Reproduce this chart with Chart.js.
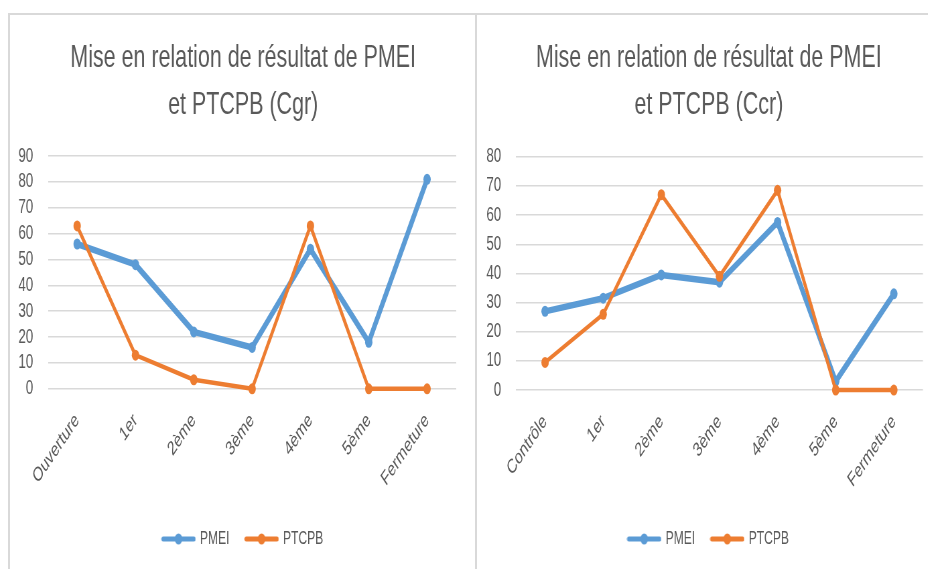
<!DOCTYPE html>
<html>
<head>
<meta charset="utf-8">
<script src="https://cdn.jsdelivr.net/npm/chart.js@4/dist/chart.umd.min.js"></script>
<style>
  html, body { margin: 0; padding: 0; background: #fff; overflow: hidden; }
  .frame { position: absolute; top: 13px; height: 600px; border-left: 2px solid #d9d9d9; border-top: 2px solid #d9d9d9; }
  #f1 { left: 8px; width: 470px; }
  #f2 { left: 475px; width: 460px; }
  /* the source picture is a horizontally squeezed screenshot, so squeeze the canvases the same way */
  canvas { position: absolute; top: 15px; transform: scaleX(0.67); transform-origin: 0 0; }
  #c1 { left: 10px; }
  #c2 { left: 477px; }
</style>
</head>
<body>
<div class="frame" id="f1"></div>
<div class="frame" id="f2"></div>
<canvas id="c1" width="696" height="554"></canvas>
<canvas id="c2" width="692" height="554"></canvas>
<script>
const cgrLabels = ['Ouverture', '1er', '2ème', '3ème', '4ème', '5ème', 'Fermeture'];
const cgrPMEI = [56, 48, 22, 16, 54, 18, 81];
const cgrPTCPB = [63, 13, 3.5, 0, 63, 0, 0];

const ccrLabels = ['Contrôle', '1er', '2ème', '3ème', '4ème', '5ème', 'Fermeture'];
const ccrPMEI = [27, 31.5, 39.5, 37, 57.5, 3, 33];
const ccrPTCPB = [9.5, 26, 67, 39, 68.5, 0, 0];

const cgrTitle = ['Mise en relation de résultat de PMEI', 'et PTCPB (Cgr)'];
const ccrTitle = ['Mise en relation de résultat de PMEI', 'et PTCPB (Ccr)'];

const FONT = "'Liberation Sans', Arial, sans-serif";
const GREY = '#595959';
const BLUE = '#5b9bd5';
const ORANGE = '#ed7d31';

// excel style legend marker: a short line with a dot in the middle
function marker(color) {
  const c = document.createElement('canvas');
  c.width = 52;
  c.height = 12;
  const g = c.getContext('2d');
  g.strokeStyle = color;
  g.fillStyle = color;
  g.lineWidth = 5;
  g.lineCap = 'round';
  g.beginPath();
  g.moveTo(3, 6);
  g.lineTo(49, 6);
  g.stroke();
  g.beginPath();
  g.arc(26, 6, 5.5, 0, Math.PI * 2);
  g.fill();
  return c;
}

// title and legend centred on the whole canvas, not on canvas minus right padding
const centerBoxes = {
  id: 'centerBoxes',
  afterLayout(chart) {
    for (const box of [chart.titleBlock, chart.legend]) {
      box.left = 0;
      box.right = chart.width;
    }
  },
};

function series(label, data, color, width) {
  return {
    label,
    data,
    borderColor: color,
    backgroundColor: color,
    borderWidth: width,
    borderJoinStyle: 'round',
    borderCapStyle: 'round',
    pointRadius: 5.5,
    pointBorderWidth: 0,
    pointBackgroundColor: color,
    tension: 0,
    fill: false,
    clip: false,
  };
}

function makeChart(id, labels, pmei, ptcpb, title, max, o) {
  const markers = [marker(BLUE), marker(ORANGE)];
  return new Chart(document.getElementById(id), {
    type: 'line',
    data: {
      labels,
      datasets: [
        { ...series('PMEI', pmei, BLUE, 6.5), order: 2 },
        { ...series('PTCPB', ptcpb, ORANGE, 4.5), order: 1 },
      ],
    },
    plugins: [centerBoxes],
    options: {
      responsive: false,
      animation: false,
      layout: { padding: { left: 0, right: o.padRight, top: 0, bottom: o.padBottom } },
      plugins: {
        title: {
          display: true,
          text: title,
          color: GREY,
          font: { family: FONT, size: 32, weight: 'normal', lineHeight: 1.47 },
          padding: { top: 20, bottom: o.titleBottom },
        },
        legend: {
          position: 'bottom',
          labels: {
            color: GREY,
            font: { family: FONT, size: 18 },
            usePointStyle: true,
            pointStyleWidth: 46,
            boxHeight: 12,
            padding: 25,
            generateLabels(chart) {
              return chart.data.datasets.map((ds, i) => ({
                text: ds.label,
                fontColor: GREY,
                pointStyle: markers[i],
                fillStyle: ds.borderColor,
                strokeStyle: ds.borderColor,
                lineWidth: 0,
                hidden: false,
                datasetIndex: i,
              }));
            },
          },
        },
        tooltip: { enabled: false },
      },
      scales: {
        x: {
          offset: true,
          grid: { display: false },
          border: { display: false },
          ticks: {
            color: GREY,
            font: { family: FONT, size: 20 },
            minRotation: 45,
            maxRotation: 45,
            autoSkip: false,
            padding: 12,
          },
          afterFit(axis) {
            axis.height = o.xHeight;
            axis.paddingLeft = 0;
            axis.paddingRight = 0;
          },
        },
        y: {
          min: 0,
          max,
          ticks: { stepSize: 10, autoSkip: false, color: GREY, font: { family: FONT, size: 20 }, padding: 22 },
          grid: { color: '#d9d9d9', lineWidth: 1.5, drawTicks: false },
          border: { display: false },
          afterFit(axis) { axis.width = o.yWidth; },
        },
      },
    },
  });
}

makeChart('c1', cgrLabels, cgrPMEI, cgrPTCPB, cgrTitle, 90,
  { padRight: 30, padBottom: 11, titleBottom: 27, xHeight: 116.2, yWidth: 56.7 });
makeChart('c2', ccrLabels, ccrPMEI, ccrPTCPB, ccrTitle, 80,
  { padRight: 26.5, padBottom: 11, titleBottom: 27.7, xHeight: 114.9, yWidth: 58.2 });
</script>
</body>
</html>
